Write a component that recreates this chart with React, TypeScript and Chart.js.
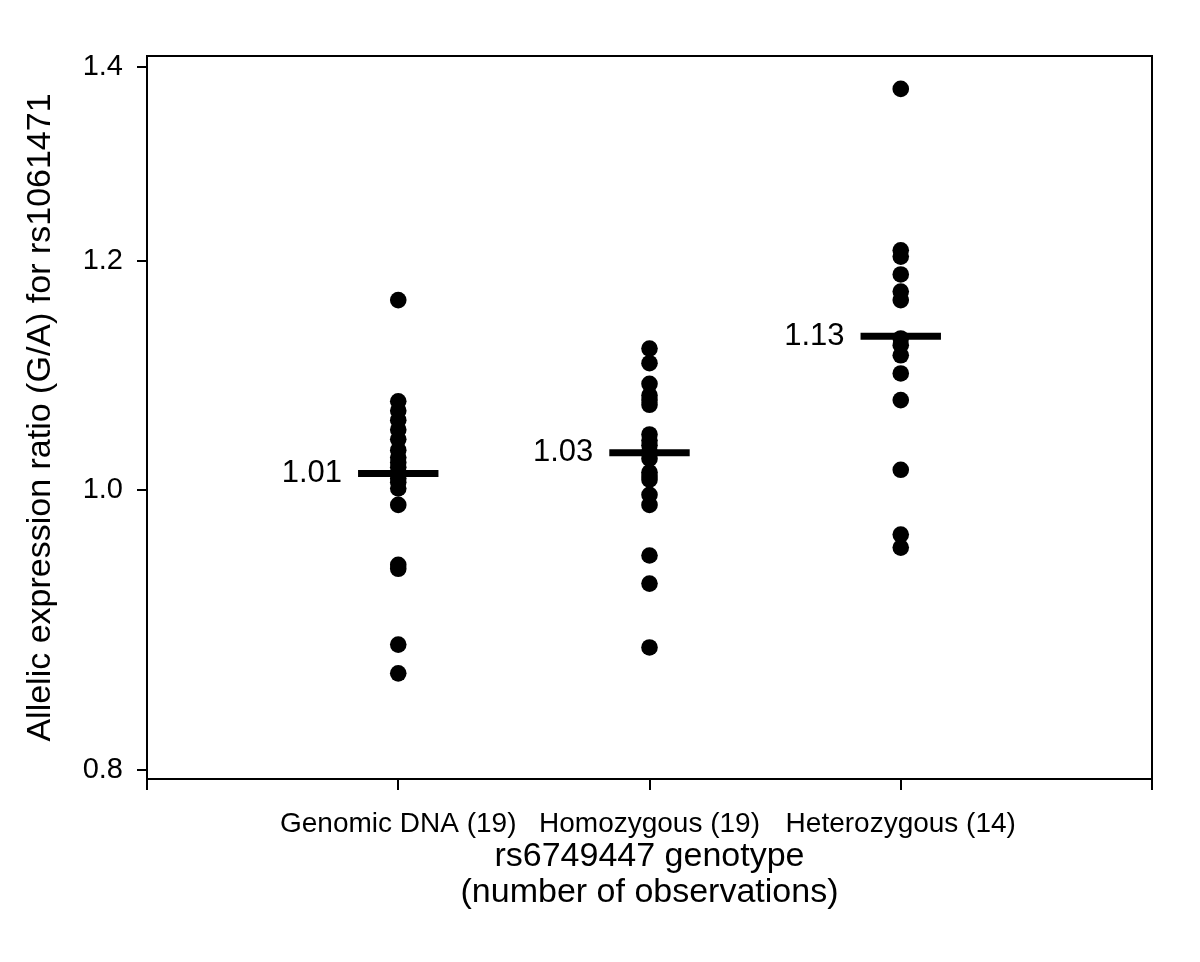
import React, { useEffect, useRef } from 'react';
import { Chart, registerables } from 'chart.js';

Chart.register(...registerables);

const CATEGORIES = ['Genomic DNA (19)', 'Homozygous (19)', 'Heterozygous (14)'];

const GENOMIC = [
  1.163, 1.073, 1.065, 1.057, 1.049, 1.041, 1.032, 1.026, 1.022, 1.018,
  1.012, 1.009, 1.006, 1.001, 0.988, 0.942, 0.939, 0.884, 0.864,
];
const HOMOZYGOUS = [
  1.119, 1.106, 1.088, 1.078, 1.074, 1.070, 1.045, 1.040, 1.036, 1.031,
  1.025, 1.014, 1.011, 1.008, 0.996, 0.988, 0.949, 0.928, 0.882,
];
const HETEROZYGOUS = [
  1.376, 1.210, 1.204, 1.187, 1.171, 1.163, 1.128, 1.122, 1.113, 1.097,
  1.074, 1.016, 0.965, 0.955,
];

const CENTER_VALUES = [1.013, 1.030, 1.130];
const CENTER_LABELS = ['1.01', '1.03', '1.13'];

const Y_TICKS = [0.8, 1.0, 1.2, 1.4];
const X_TICKS = [0, 1, 2, 3, 4];
const Y_MIN = 0.7943;
const Y_MAX = 1.4125;
const X_MIN = 0;
const X_MAX = 4;
const BAR_HALF = 0.16;

const X_TITLE = ['rs6749447 genotype', '(number of observations)'];
const Y_TITLE = 'Allelic expression ratio (G/A) for rs1061471';

const FONT = '"Liberation Sans", Arial, Helvetica, sans-serif';

export default function App() {
  const ref = useRef<HTMLCanvasElement>(null);

  useEffect(() => {
    if (!ref.current) return;
    const groups = [GENOMIC, HOMOZYGOUS, HETEROZYGOUS];
    const datasets: any[] = [];
    CENTER_VALUES.forEach((m, i) => {
      datasets.push({
        type: 'line',
        data: [
          { x: i + 1 - BAR_HALF, y: m },
          { x: i + 1 + BAR_HALF, y: m },
        ],
        borderColor: '#000',
        backgroundColor: '#000',
        borderWidth: 7,
        borderCapStyle: 'butt',
        pointRadius: 0,
        pointHoverRadius: 0,
        fill: false,
        showLine: true,
        xAxisID: 'x',
        yAxisID: 'y',
        order: 0,
      });
    });
    groups.forEach((vals, i) => {
      datasets.push({
        type: 'scatter',
        data: vals.map((v) => ({ x: i + 1, y: v })),
        pointRadius: 8.3,
        pointHoverRadius: 8.3,
        backgroundColor: '#000',
        borderColor: '#000',
        borderWidth: 0,
        xAxisID: 'x',
        yAxisID: 'y',
        order: 1,
      });
    });

    const labelPlugin = {
      id: 'centerLabels',
      afterDatasetsDraw(chart: any) {
        const { ctx, scales } = chart;
        const x = scales.x;
        const y = scales.y;
        ctx.save();
        ctx.font = `31px ${FONT}`;
        ctx.fillStyle = '#000';
        ctx.textAlign = 'right';
        ctx.textBaseline = 'middle';
        CENTER_VALUES.forEach((m, i) => {
          ctx.fillText(
            CENTER_LABELS[i],
            x.getPixelForValue(i + 1 - BAR_HALF) - 16,
            y.getPixelForValue(m)
          );
        });
        ctx.restore();
      },
    };

    const chart = new Chart(ref.current, {
      type: 'scatter',
      data: { datasets },
      options: {
        animation: false,
        responsive: false,
        maintainAspectRatio: false,
        layout: { padding: 0 },
        plugins: {
          legend: { display: false },
          tooltip: { enabled: false },
        },
        events: [],
        scales: {
          x: {
            type: 'linear',
            position: 'bottom',
            min: X_MIN,
            max: X_MAX,
            bounds: 'data',
            afterBuildTicks: (s: any) => {
              s.ticks = X_TICKS.map((v) => ({ value: v }));
            },
            ticks: {
              autoSkip: false,
              maxRotation: 0,
              minRotation: 0,
              padding: 17,
              color: '#000',
              font: { family: FONT, size: 28 },
              callback: (v: any) => CATEGORIES[Number(v) - 1] ?? '',
            },
            grid: {
              drawOnChartArea: false,
              drawTicks: true,
              tickLength: 11,
              color: '#000',
              lineWidth: 2,
            },
            border: { display: true, color: '#000', width: 2 },
            title: {
              display: true,
              text: X_TITLE,
              color: '#000',
              font: { family: FONT, size: 34, lineHeight: 1.05 },
              padding: { top: 0, bottom: 52 },
            },
            afterFit: (s: any) => {
              s.height = 183;
            },
          },
          y: {
            type: 'logarithmic',
            position: 'left',
            min: Y_MIN,
            max: Y_MAX,
            bounds: 'data',
            afterBuildTicks: (s: any) => {
              s.ticks = Y_TICKS.map((v) => ({ value: v }));
            },
            ticks: {
              autoSkip: false,
              padding: 14,
              color: '#000',
              font: { family: FONT, size: 29 },
              callback: (v: any) => Number(v).toFixed(1),
            },
            grid: {
              drawOnChartArea: false,
              drawTicks: true,
              tickLength: 10,
              color: '#000',
              lineWidth: 2,
            },
            border: { display: true, color: '#000', width: 2 },
            title: {
              display: true,
              text: Y_TITLE,
              color: '#000',
              font: { family: FONT, size: 34 },
              padding: { top: 20, bottom: 0 },
            },
            afterFit: (s: any) => {
              s.width = 147;
            },
          },
          xTop: {
            type: 'linear',
            position: 'top',
            min: X_MIN,
            max: X_MAX,
            ticks: { display: false },
            grid: { display: false },
            border: { display: true, color: '#000', width: 2 },
            afterFit: (s: any) => {
              s.height = 56;
            },
          },
          yRight: {
            type: 'linear',
            position: 'right',
            min: 0,
            max: 1,
            ticks: { display: false },
            grid: { display: false },
            border: { display: true, color: '#000', width: 2 },
            afterFit: (s: any) => {
              s.width = 48;
            },
          },
        },
      } as any,
      plugins: [labelPlugin],
    });

    return () => {
      chart.destroy();
    };
  }, []);

  return (
    <div style={{ position: 'absolute', left: 0, top: 0, width: 1200, height: 962, background: '#fff' }}>
      <canvas ref={ref} width={1200} height={962} style={{ display: 'block' }} />
    </div>
  );
}
